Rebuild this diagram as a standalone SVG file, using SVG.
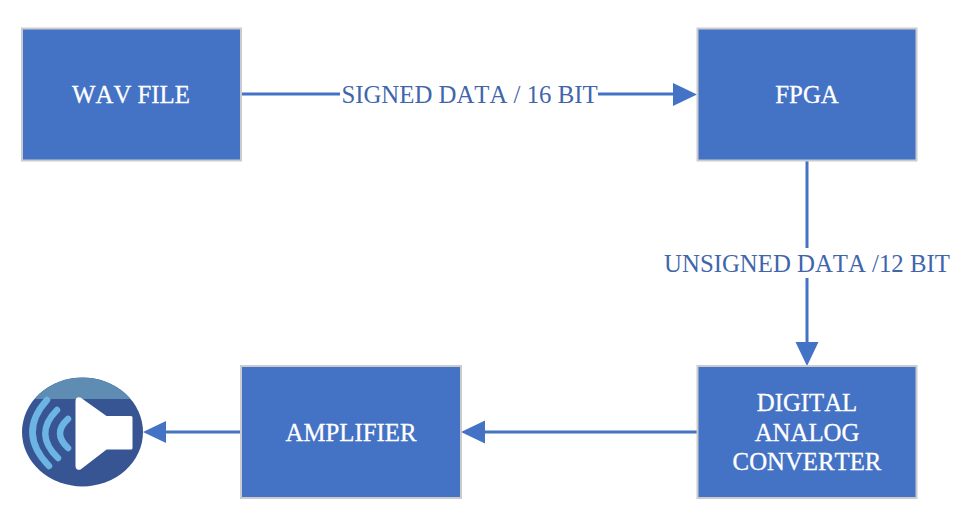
<svg xmlns="http://www.w3.org/2000/svg" width="963" height="531" viewBox="0 0 963 531">
<style>
text{font-family:"Liberation Serif","Times New Roman",serif;font-size:24.8px;text-anchor:middle;font-kerning:none}
.box{fill:#4472c4;stroke:#c9cbce;stroke-width:2}
.nl{fill:#fff;stroke:#fff;stroke-width:.3}
.el{fill:#3f66ac}
.c{fill:none;stroke:#4472c4;stroke-width:3}
.h{fill:#4472c4}
.w{fill:none;stroke:#6cb4e4;stroke-width:6.500;stroke-linecap:round}
</style>
<rect width="963" height="531" fill="#fff"/>
<g id="connectors">
<path class="c" d="M241 94H340M598 94H675"/><path class="h" d="M673 83L697 94.500L673 106Z"/>
<path class="c" d="M807 161V248M807 278V343"/><path class="h" d="M795.500 342H818.500L807 366Z"/>
<path class="c" d="M698 432H484"/><path class="h" d="M485 420.500L461 432L485 443.500Z"/>
<path class="c" d="M241 432H165"/><path class="h" d="M166 421L143 432L166 443Z"/>
<text class="el" x="469.500" y="102.500">SIGNED DATA / 16 BIT</text>
<text class="el" x="807" y="271.500">UNSIGNED DATA /12 BIT</text>
</g>
<g id="wav"><rect class="box" x="22" y="28.500" width="219" height="132"/><text class="nl" x="131" y="102.500">WAV FILE</text></g>
<g id="fpga"><rect class="box" x="697.500" y="28.500" width="219" height="132"/><text class="nl" x="807" y="102.500">FPGA</text></g>
<g id="dac"><rect class="box" x="697.500" y="366" width="219" height="132"/><text class="nl" x="807" y="410.500">DIGITAL</text><text class="nl" x="807" y="440.500">ANALOG</text><text class="nl" x="807" y="469.500">CONVERTER</text></g>
<g id="amp"><rect class="box" x="241" y="366" width="220" height="132"/><text class="nl" x="351" y="440.500">AMPLIFIER</text></g>
<g id="speaker">
<ellipse cx="82.500" cy="432" rx="60.500" ry="54.500" fill="#375493"/>
<path d="M34.500 399A60.500 54.500 0 0 1 130.500 399Z" fill="#5f8cb3"/>
<path d="M77 401Q77 398 80 399L106 417.500H131V448H106L80 468Q77 469 77 466Z" fill="#fff" stroke="#fff" stroke-width="3" stroke-linejoin="round"/>
<path class="w" d="M47 400Q17 433 49 466"/>
<path class="w" d="M57 410Q33 434 58 458"/>
<path class="w" d="M68 419Q52 433 68 448"/>
</g>
</svg>
